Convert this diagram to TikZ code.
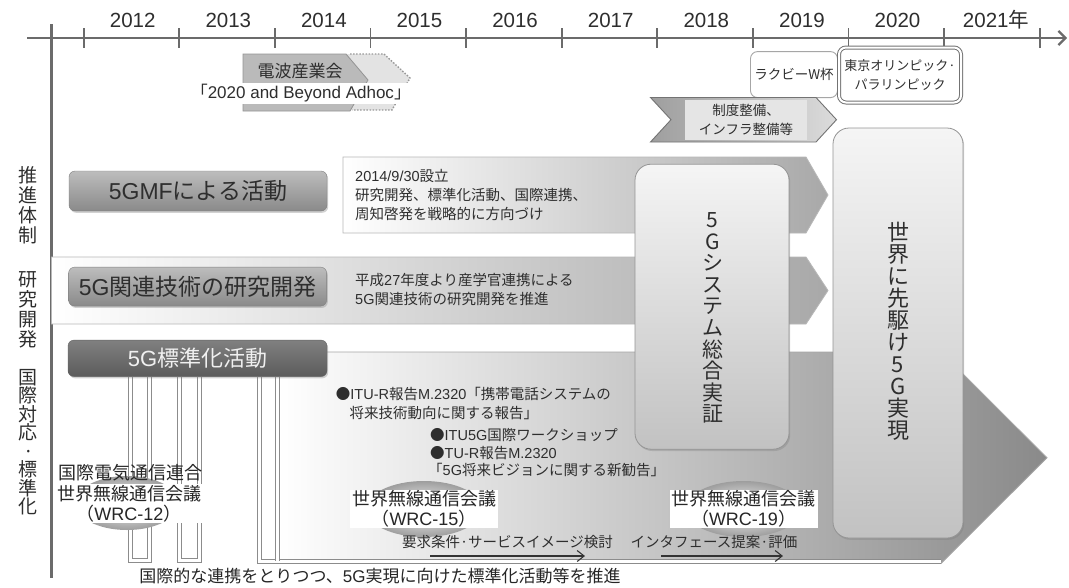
\documentclass[tikz,border=0pt]{standalone}
\usepackage{fontspec}
\setmainfont{Noto Sans CJK JP}
\newfontfamily\hv{Liberation Sans}
\usetikzlibrary{arrows.meta,shadows}
\newcommand\myfs[2]{\fontsize{#1}{#2}\selectfont}
\begin{document}
\begin{tikzpicture}[x=1pt,y=-1pt,
  axisline/.style={draw=black!58, line width=2.2pt},
  tickline/.style={draw=black!58, line width=1.8pt},
  yearlbl/.style={font=\hv\myfs{20.5}{22}, text=black!82, inner sep=0pt},
  sidelbl/.style={font=\myfs{19}{20}, align=center, text=black!82, inner sep=0pt},
  shadowed/.style={drop shadow={shadow xshift=1.2pt,shadow yshift=-1.8pt,opacity=.35}},
  graybox/.style={rectangle, rounded corners=6pt, draw=black!50, top color=black!26, bottom color=black!46, font=\myfs{23}{26}, text=black!82, shadowed},
  darkbox/.style={rectangle, rounded corners=6pt, draw=black!60, top color=black!50, bottom color=black!64, font=\myfs{22}{26}, text=black!6, shadowed},
  bigbox/.style={rectangle, rounded corners=16pt, draw=black!42, line width=0.8pt, top color=black!4, bottom color=black!24, shadowed},
  bandtxt/.style={font=\myfs{14.5}{19}, align=left, text=black!82, inner sep=0pt, anchor=west},
  bullet/.style={font=\myfs{14.5}{18}, text=black!82, inner sep=0pt, anchor=west},
  tube/.style={draw=black!45, double=white, line width=1pt, double distance=3pt},
  wrc/.style={font=\myfs{18}{20}, align=center, text=black!85, fill=white, inner xsep=2pt, inner ysep=1pt},
  halo/.style={inner color=white, outer color=black!38},
  smallarrow/.style={draw=black!80, line width=1.1pt, -{Straight Barb[length=7pt,width=11pt]}},
  smalltxt/.style={font=\myfs{14.5}{18}, text=black!82, inner sep=0pt}
]
\useasboundingbox (0,0) rectangle (1069,587);
\fill[white] (0,0) rectangle (1069,587);

% ---------- timeline axes
\coordinate (hstart) at (27,38);
\coordinate (hend) at (1067,38);
\coordinate (vstart) at (51.5,24);
\coordinate (vend) at (51.5,578);
\draw[axisline,-{Straight Barb[length=7pt,width=14pt]}] (hstart) -- (hend);
\draw[axisline] (vstart) -- (vend);
\foreach \k in {0,...,10} \draw[tickline] ({83.7+95.6*\k},28) -- ({83.7+95.6*\k},48);
\foreach \yr [count=\k from 0] in {2012,2013,...,2020}
  \node[yearlbl] (y\yr) at ({83.7+95.6*\k+49},20) {\yr};
\node[yearlbl] (y2021) at (996,20) {2021{\rmfamily 年}};

% ---------- side labels
\node[sidelbl] (lblA) at (28.5,205) {推\\進\\体\\制};
\node[sidelbl] (lblB) at (28.5,310) {研\\究\\開\\発};
\node[sidelbl, font=\myfs{19}{18.5}] (lblC) at (28.5,442) {国\\際\\対\\応\\·\\標\\準\\化};

% ---------- bands
\path[left color=white, right color=black!34, draw=black!28, line width=0.8pt]
  (343,157) -- (806,157) -- (828,195) -- (806,233) -- (343,233) -- cycle;
\path[left color=white, right color=black!34, draw=black!28, line width=0.8pt]
  (51.5,257) -- (806,257) -- (828,290.5) -- (806,324) -- (51.5,324) -- cycle;

% ---------- big arrow
\path[left color=white, middle color=black!14, right color=black!46]
  (277.5,352) -- (941,352) -- (1047,457.75) -- (941,563.5) -- (277.5,563.5) -- cycle;
\draw[black!35, line width=0.8pt] (327,352) -- (941,352) -- (1047,457.75) -- (941,563.5);

% ---------- tubes below standardisation box
\draw[tube] (130.8,377) -- (130.8,560) -- (149.2,560) -- (149.2,377);
\draw[tube] (179.2,377) -- (179.2,560) -- (199.2,560) -- (199.2,377);
\draw[tube] (259,377) -- (259,561) -- (941,561);
\draw[tube] (277.5,377) -- (277.5,561);

% ---------- row boxes
\node[graybox, minimum width=258pt, minimum height=40pt] (gmf) at (198,191) {{\hv 5GMF}による活動};
\node[graybox, minimum width=258pt, minimum height=39pt] (rnd) at (197.6,286.6) {{\hv 5G}関連技術の研究開発};
\node[darkbox, minimum width=259pt, minimum height=36.5pt] (std) at (197.5,358.3) {{\hv 5G}標準化活動};

% ---------- band texts
\node[bandtxt] (gmftxt) at (355,195) {{\hv 2014/9/30}設立\\研究開発、標準化活動、国際連携、\\周知啓発を戦略的に方向づけ};
\node[bandtxt] (rndtxt) at (355,289) {平成{\hv 27}年度より産学官連携による\\{\hv 5G}関連技術の研究開発を推進};

% ---------- big vertical boxes
\node[bigbox, minimum width=154pt, minimum height=285pt] (sys) at (712,306.7) {};
\node[font=\myfs{21}{21.6}, align=center, text=black!82, inner sep=0pt] (systxt) at (712.5,318)
  {5\\G\\シ\\ス\\テ\\ム\\総\\合\\実\\証};
\node[bigbox, minimum width=130pt, minimum height=410pt] (world) at (898,333) {};
\node[font=\myfs{22}{22}, align=center, text=black!82, inner sep=0pt] (worldtxt) at (898,331.5)
  {世\\界\\に\\先\\駆\\け\\5\\G\\実\\現};

% ---------- ARIB ad hoc
\fill[black!11] (346,54) -- (384,54) -- (410,78) -- (392,110) -- (350,110) -- (368,80) -- cycle;
\draw[black!40, line width=1.4pt, dash pattern=on 1.5pt off 1.6pt] (350,54) -- (384,54) -- (410,78) -- (392,110) -- (352,110);
\path[fill=black!27, draw=black!42, line width=0.8pt] (243,54) -- (346,54) -- (368,80) -- (350,111) -- (243,111) -- cycle;
\node[font=\myfs{17}{20}, text=black!82, inner sep=0pt] (arib) at (300,71) {電波産業会};
\node[font=\myfs{17}{20}, text=black!82, fill=white, inner xsep=1pt, inner ysep=2pt] (adhoc) at (300.9,93.5) {「{\hv 2020 and Beyond Adhoc}」};

% ---------- events
\node[rectangle, rounded corners=7pt, draw=black!35, line width=0.9pt, fill=white,
  minimum width=87pt, minimum height=46pt, font=\myfs{13.5}{18}, text=black!82, inner sep=1pt] (rwc) at (794,74.6) {ラクビーW杯};
\node[rectangle, rounded corners=7pt, draw=black!55, double=white, line width=1pt, double distance=2pt, fill=white,
  minimum width=122pt, minimum height=55pt, font=\myfs{13}{19}, align=center, text=black!82, inner sep=1pt] (tokyo) at (900,75)
  {東京オリンピック·\\パラリンピック};
\path[left color=black!38, right color=black!14, draw=black!55, line width=0.9pt]
  (650.5,97.5) -- (816,97.5) -- (836.5,119.7) -- (816,142) -- (650.5,142) -- (671,119.7) -- cycle;
\node[fill=black!10, minimum width=122pt, minimum height=40pt, font=\myfs{13.5}{19}, align=center, text=black!82, inner sep=0pt] (infra) at (746,120)
  {制度整備、\\インフラ整備等};

% ---------- WRC labels
\path[halo] (127,503) ellipse [x radius=52, y radius=27];
\path[halo] (424,509) ellipse [x radius=58, y radius=28];
\path[halo] (743.5,509) ellipse [x radius=58, y radius=28];
\node[font=\myfs{18}{20}, text=black!85, inner sep=0pt] (wrc12a) at (130,473) {国際電気通信連合};
\node[wrc] (wrc12) at (129,503.5) {世界無線通信会議\\（{\hv WRC-12}）};
\node[wrc] (wrc15) at (424,509) {世界無線通信会議\\（{\hv WRC-15}）};
\node[wrc] (wrc19) at (743.5,509) {世界無線通信会議\\（{\hv WRC-19}）};

% ---------- bullets
\node[bullet] (b1) at (335.7,394) {●{\hv ITU-R}報告{\hv M.2320}「携帯電話システムの};
\node[bullet] (b1b) at (349.5,413) {将来技術動向に関する報告」};
\node[bullet] (b2) at (430,435) {●{\hv ITU5G}国際ワークショップ};
\node[bullet] (b3) at (430,452.6) {●{\hv TU-R}報告{\hv M.2320}};
\node[bullet] (b3b) at (428,470) {「{\hv 5G}将来ビジョンに関する新勧告」};

% ---------- study arrows
\node[smalltxt] (req) at (507.5,542) {要求条件·サービスイメージ検討};
\node[smalltxt] (ifc) at (714,542) {インタフェース提案·評価};
\coordinate (reqs) at (430,556);
\coordinate (reqe) at (585,556);
\coordinate (ifcs) at (661,556);
\coordinate (ifce) at (783,556);
\draw[smallarrow] (reqs) -- (reqe);
\draw[smallarrow] (ifcs) -- (ifce);

% ---------- bottom caption
\node[font=\myfs{17}{20}, text=black!85, inner sep=0pt] (caption) at (380,576)
  {国際的な連携をとりつつ、{\hv 5G}実現に向けた標準化活動等を推進};
\end{tikzpicture}
\end{document}
